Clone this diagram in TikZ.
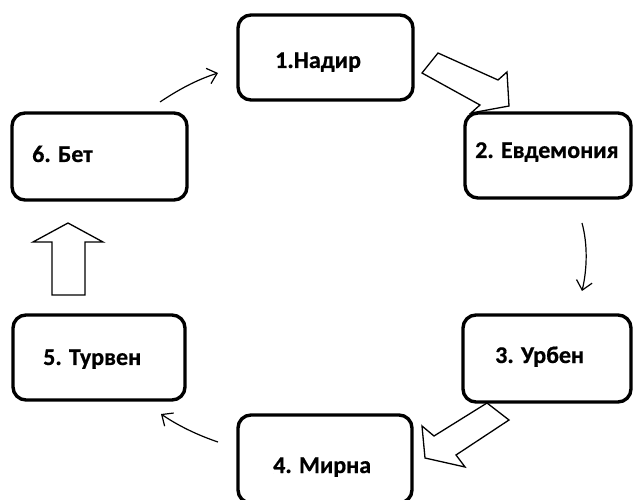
\documentclass[tikz,border=0pt]{standalone}
\usepackage{fontspec}
\setmainfont{Carlito}[BoldFeatures={FakeBold=0.6}]
\usetikzlibrary{arrows.meta}
\tikzset{
  stagebox/.style={draw=black, line width=3.4pt, rounded corners=13pt, fill=white, inner sep=0pt},
  stagetext/.style={anchor=base west, inner sep=0pt, font=\fontsize{24}{28}\selectfont\bfseries},
  thinarrow/.style={draw=black, line width=1.2pt, -{Straight Barb[length=9pt,width=16pt,line width=1.2pt]}},
  blockarrow/.style={draw=black, line width=1.3pt, fill=white, line join=miter}
}
\begin{document}
\begin{tikzpicture}[x=1pt,y=-1pt]
\useasboundingbox (0,0) rectangle (633,500);
\clip (0,0) rectangle (633,500);
% boxes
\node[stagebox, minimum width=175pt, minimum height=85pt] (b1) at (325.5,57.5) {};
\node[stagebox, minimum width=166pt, minimum height=85pt] (b2) at (548,155.5) {};
\node[stagebox, minimum width=168pt, minimum height=87pt] (b3) at (547,358.5) {};
\node[stagebox, minimum width=174pt, minimum height=88pt] (b4) at (325,459) {};
\node[stagebox, minimum width=172pt, minimum height=85pt] (b5) at (99,357.5) {};
\node[stagebox, minimum width=175pt, minimum height=87pt] (b6) at (99.5,156.5) {};
% texts
\node[stagetext] (t1) at (275,68) {1.Надир};
\node[stagetext] (t2) at (475,158) {2. Евдемония};
\node[stagetext] (t3) at (495,363) {3. Урбен};
\node[stagetext] (t4) at (273,473) {4. Мирна};
\node[stagetext] (t5) at (43,365) {5. Турвен};
\node[stagetext] (t6) at (32,162) {6. Бет};
% connector ends
\coordinate (s61) at (160,102);
\coordinate (e61) at (218,73);
\coordinate (s23) at (582,223);
\coordinate (e23) at (582,291);
\coordinate (s45) at (218,442);
\coordinate (e45) at (161,414);
% thin arrows
\draw[thinarrow] (s61) .. controls (178,90) and (196,80) .. (e61);
\draw[thinarrow] (s23) .. controls (588,245) and (587,270) .. (e23);
\draw[thinarrow] (s45) .. controls (197,435) and (177,425) .. (e45);
% block arrows
\draw[blockarrow] (422,73) -- (438,53) -- (498,80) -- (507,72) -- (509,106) -- (471,113) -- (480,105) -- cycle;
\draw[blockarrow] (487,403) -- (509,420) -- (456,455) -- (465,467) -- (425,458) -- (422,426) -- (434,436) -- cycle;
\draw[blockarrow] (52,295) -- (85,295) -- (85,242) -- (103,242) -- (68,223) -- (33,242) -- (52,242) -- cycle;
\end{tikzpicture}
\end{document}
